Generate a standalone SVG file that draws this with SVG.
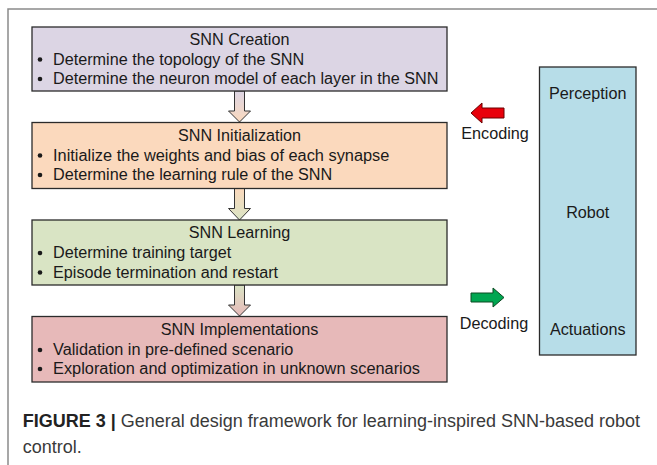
<svg xmlns="http://www.w3.org/2000/svg" width="657" height="465" viewBox="0 0 657 465">
<defs>
<style>
.t{font-family:"Liberation Sans",Arial,Helvetica,sans-serif;font-size:15.6px;fill:#1a1a1a}
.ttl{text-anchor:middle}
.box{stroke:#2b2b2b;stroke-width:1.3}
.dot{fill:#1a1a1a}
.arr{stroke:#333;stroke-width:1}
.cap{font-family:"Liberation Sans",Arial,Helvetica,sans-serif;font-size:18px;fill:#3a3a3a}
.frame{stroke:#8a8a8a;stroke-width:1.5;fill:none}
</style>
<linearGradient id="g1" x1="0" y1="0" x2="0" y2="1"><stop offset="0" stop-color="#dcd5e4"/><stop offset="1" stop-color="#fbd9bd"/></linearGradient>
<linearGradient id="g2" x1="0" y1="0" x2="0" y2="1"><stop offset="0" stop-color="#fbd9bd"/><stop offset="1" stop-color="#d9e4c4"/></linearGradient>
<linearGradient id="g3" x1="0" y1="0" x2="0" y2="1"><stop offset="0" stop-color="#d9e4c4"/><stop offset="1" stop-color="#e7b9b9"/></linearGradient>
</defs>
<rect width="657" height="465" fill="#fff"/>
<path class="frame" d="M8,465 V9 H657"/>

<g id="connectors">
<path class="arr" fill="url(#g1)" d="M234.5,91 H244.5 V111 H250.5 L239.5,122 L228.5,111 H234.5 Z"/>
<path class="arr" fill="url(#g2)" d="M234.5,188.5 H244.5 V208.5 H250.5 L239.5,220 L228.5,208.5 H234.5 Z"/>
<path class="arr" fill="url(#g3)" d="M234.5,285 H244.5 V305 H250.5 L239.5,316 L228.5,305 H234.5 Z"/>
<path d="M471,113 L482,103 V108 H504 V118 H482 V123 Z" fill="#e8000b" stroke="#6a0000" stroke-width="1"/>
<text class="t ttl" x="495" y="139" textLength="67.5" lengthAdjust="spacingAndGlyphs">Encoding</text>
<path d="M504,297.5 L493,288 V293 H471 V302 H493 V307 Z" fill="#00a651" stroke="#0a4a22" stroke-width="1"/>
<text class="t ttl" x="494" y="329" textLength="68.4" lengthAdjust="spacingAndGlyphs">Decoding</text>
</g>

<g id="snn-creation">
<rect class="box" x="32" y="27" width="415" height="64" fill="#dcd5e4"/>
<text class="t ttl" x="239.5" y="44.5" textLength="99.9" lengthAdjust="spacingAndGlyphs">SNN Creation</text>
<circle class="dot" cx="40" cy="59.5" r="2.3"/>
<text class="t" x="53" y="64.5" textLength="251.2" lengthAdjust="spacingAndGlyphs">Determine the topology of the SNN</text>
<circle class="dot" cx="40" cy="79" r="2.3"/>
<text class="t" x="53" y="84" textLength="385.4" lengthAdjust="spacingAndGlyphs">Determine the neuron model of each layer in the SNN</text>
</g>

<g id="snn-initialization">
<rect class="box" x="32" y="122.5" width="415" height="66" fill="#fbd9bd"/>
<text class="t ttl" x="239.5" y="140.5" textLength="123" lengthAdjust="spacingAndGlyphs">SNN Initialization</text>
<circle class="dot" cx="40" cy="155.5" r="2.3"/>
<text class="t" x="53" y="160.5" textLength="336.4" lengthAdjust="spacingAndGlyphs">Initialize the weights and bias of each synapse</text>
<circle class="dot" cx="40" cy="175" r="2.3"/>
<text class="t" x="53" y="180" textLength="279.1" lengthAdjust="spacingAndGlyphs">Determine the learning rule of the SNN</text>
</g>

<g id="snn-learning">
<rect class="box" x="32" y="220" width="415" height="65" fill="#d9e4c4"/>
<text class="t ttl" x="239.5" y="238" textLength="101.7" lengthAdjust="spacingAndGlyphs">SNN Learning</text>
<circle class="dot" cx="40" cy="253" r="2.3"/>
<text class="t" x="53" y="258" textLength="178.3" lengthAdjust="spacingAndGlyphs">Determine training target</text>
<circle class="dot" cx="40" cy="272.5" r="2.3"/>
<text class="t" x="53" y="277.5" textLength="225.1" lengthAdjust="spacingAndGlyphs">Episode termination and restart</text>
</g>

<g id="snn-implementations">
<rect class="box" x="32" y="316.5" width="415" height="65.5" fill="#e7b9b9"/>
<text class="t ttl" x="239.5" y="335" textLength="157.5" lengthAdjust="spacingAndGlyphs">SNN Implementations</text>
<circle class="dot" cx="40" cy="350" r="2.3"/>
<text class="t" x="53" y="355" textLength="240.4" lengthAdjust="spacingAndGlyphs">Validation in pre-defined scenario</text>
<circle class="dot" cx="40" cy="369" r="2.3"/>
<text class="t" x="53" y="374" textLength="367" lengthAdjust="spacingAndGlyphs">Exploration and optimization in unknown scenarios</text>
</g>

<g id="robot">
<rect class="box" x="539.5" y="67" width="96.5" height="288" fill="#b7dde8"/>
<text class="t ttl" x="587.75" y="99" textLength="77.4" lengthAdjust="spacingAndGlyphs">Perception</text>
<text class="t ttl" x="587.75" y="218" textLength="43.2" lengthAdjust="spacingAndGlyphs">Robot</text>
<text class="t ttl" x="587.75" y="335" textLength="75.6" lengthAdjust="spacingAndGlyphs">Actuations</text>
</g>

<g id="caption">
<text class="cap" x="22.7" y="427"><tspan font-weight="bold" fill="#222">FIGURE 3 |</tspan> General design framework for learning-inspired SNN-based robot</text>
<text class="cap" x="22.7" y="453">control.</text>
</g>
</svg>
